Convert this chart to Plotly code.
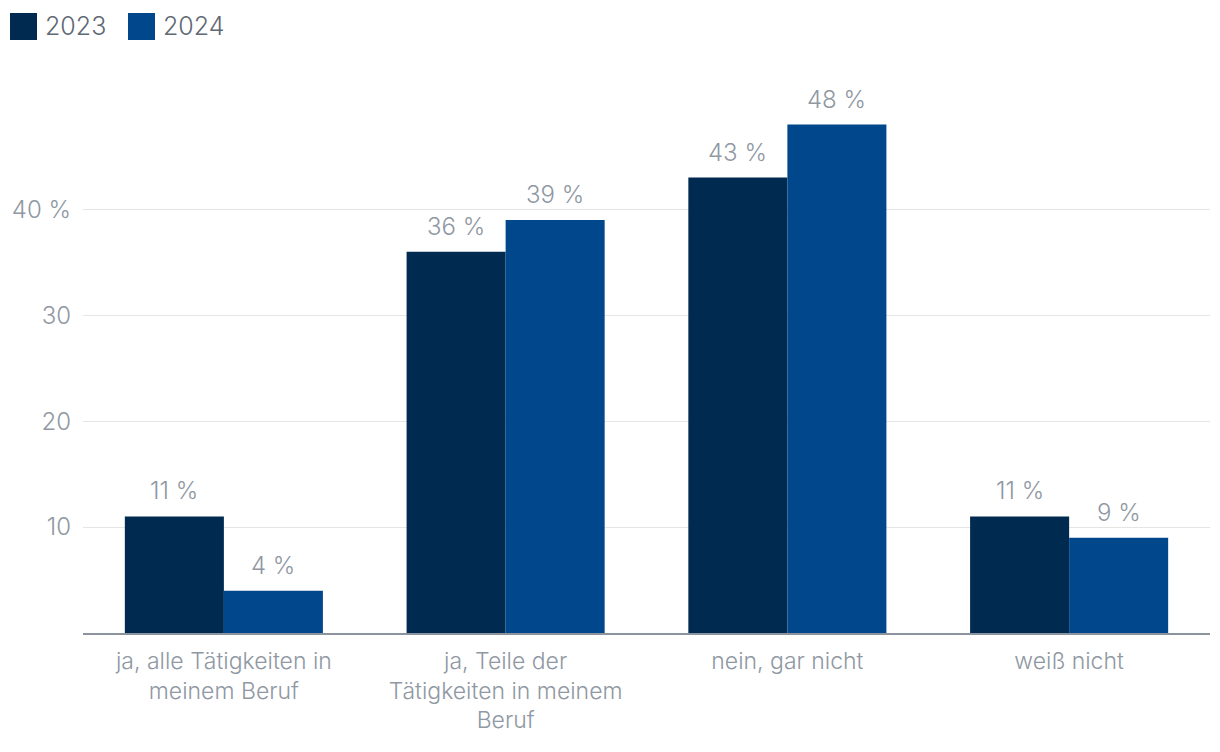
import plotly.graph_objects as go

categories = ["ja, alle Tätigkeiten in<br>meinem Beruf",
              "ja, Teile der<br>Tätigkeiten in meinem<br>Beruf",
              "nein, gar nicht",
              "weiß nicht"]
values_2023 = [11, 36, 43, 11]
values_2024 = [4, 39, 48, 9]
series_names = ["2023", "2024"]
colors = ["#002a50", "#00478c"]
tick_vals = [10, 20, 30, 40]
tick_text = ["10", "20", "30", "40 %"]

FONT = "Inter"
GRAY = "#8f98a3"

W, H = 1220, 752
OFF = 8  # page body margin offset
ml, mr, mt, mb = 83 - OFF, 10 + OFF, 61 - OFF, 119 + OFF
PW, PH = W - ml - mr, H - mt - mb

fig = go.Figure()
for name, vals, col in zip(series_names, [values_2023, values_2024], colors):
    fig.add_trace(go.Bar(
        x=categories, y=vals, name=name, marker=dict(color=col, line=dict(width=0)),
        showlegend=False,
    ))

# value labels above bars
annotations = []
bar_px = PW / len(categories) * (1 - 0.297) / 2
for i, vals in enumerate([values_2023, values_2024]):
    for c, v in zip(categories, vals):
        annotations.append(dict(x=c, y=v, xref="x", yref="y", text=f"{v} %",
                                showarrow=False, xanchor="center", yanchor="bottom",
                                xshift=(i - 0.5) * bar_px, yshift=9,
                                font=dict(family=FONT, size=24, color=GRAY, weight=300)))

# legend drawn as shapes + text (top left)
shapes = []
leg_x = [10, 128]
for i, (name, col) in enumerate(zip(series_names, colors)):
    x0 = leg_x[i] - OFF
    shapes.append(dict(type="rect", xref="paper", yref="paper",
                       x0=(x0 - ml) / PW, x1=(x0 + 27 - ml) / PW,
                       y0=(H - mb - (40 - OFF)) / PH, y1=(H - mb - (13 - OFF)) / PH,
                       fillcolor=col, line=dict(width=0)))
    annotations.append(dict(xref="paper", yref="paper",
                            x=(x0 + 33 - ml) / PW,
                            y=(H - mb - (26.5 - OFF)) / PH,
                            text=name, showarrow=False, xanchor="left", yanchor="middle",
                            font=dict(family=FONT, size=25, color="#5f6974", weight=300)))

fig.update_layout(
    width=W, height=H,
    margin=dict(l=ml, r=mr, t=mt, b=mb, autoexpand=False),
    paper_bgcolor="white", plot_bgcolor="white",
    barmode="group", bargap=0.297, bargroupgap=0,
    showlegend=False,
    shapes=shapes, annotations=annotations,
    font=dict(family=FONT, color=GRAY, weight=300),
    xaxis=dict(showline=True, linecolor="#8a939e", linewidth=2, showgrid=False,
               ticks="", ticklabelstandoff=6, automargin=False,
               tickfont=dict(family=FONT, size=23, color=GRAY, weight=300)),
    yaxis=dict(range=[0, 54], tickvals=tick_vals, ticktext=tick_text,
               showgrid=True, gridcolor="#e5e5e5", gridwidth=1, zeroline=False,
               ticks="", ticklabelstandoff=11, automargin=False,
               tickfont=dict(family=FONT, size=24, color=GRAY, weight=300)),
)

fig.write_html("out.html")
